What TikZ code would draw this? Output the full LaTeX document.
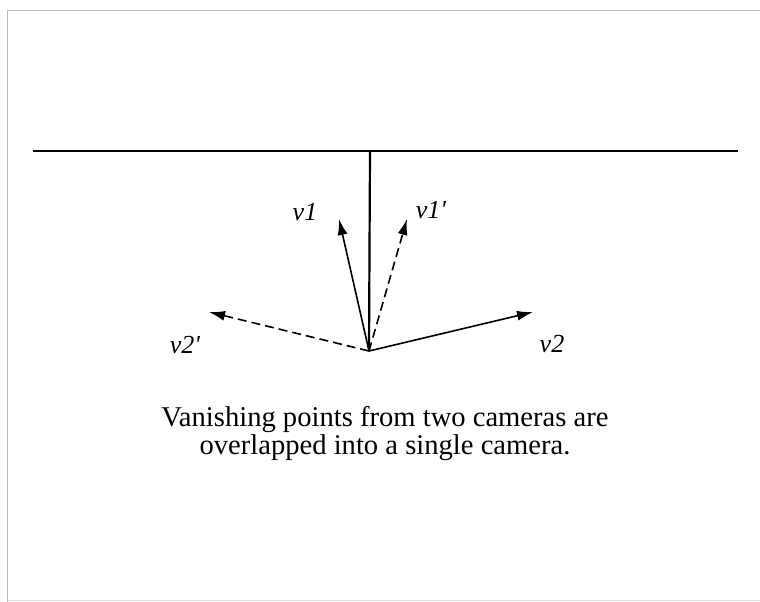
\documentclass[tikz,border=0pt]{standalone}
\usepackage{fontspec}
\setmainfont{Liberation Serif}
\usetikzlibrary{arrows.meta, positioning}

\begin{document}
\begin{tikzpicture}[
    x=1pt, y=-1pt,
    >={Latex[length=16pt, width=10pt]},
    frame/.style={gray!55, line width=1pt},
    axis/.style={black, line width=2.2pt},
    vec/.style={->, line width=1.6pt},
    vecdash/.style={vec, dash pattern=on 9pt off 5pt},
    vlabel/.style={font=\fontsize{26}{26}\selectfont\itshape, anchor=base, inner sep=0pt},
    caption/.style={font=\fontsize{28.6}{27.5}\selectfont, align=center, anchor=base, inner sep=0pt},
]
\useasboundingbox (0,0) rectangle (760,602);

% === Frame ===
\draw[frame] (760,11) -- (7,11) -- (7,602);
\draw[gray!30, line width=0.6pt] (7,600) -- (760,600);

% === Image line and principal axis ===
\coordinate (hl) at (33,151);
\coordinate (hr) at (738,151);
\coordinate (top) at (370,151);
\coordinate (o) at (369,351);
\draw[axis] (hl) -- (hr);
\draw[axis] (top) -- (o);

% === Vanishing directions ===
\coordinate (v1tip) at (339,219);
\coordinate (v1ptip) at (407,219);
\coordinate (v2tip) at (533,312);
\coordinate (v2ptip) at (209,312);

\draw[vec] (o) -- (v1tip);
\draw[vecdash] (o) -- (v1ptip);
\draw[vec] (o) -- (v2tip);
\draw[vecdash] (o) -- (v2ptip);

% Labels
\node (v1) [vlabel] at (305,220) {v1};
\node (v1p) [vlabel] at (431,218) {v1\textquotesingle};
\node (v2) [vlabel] at (552,352) {v2};
\node (v2p) [vlabel] at (185,353) {v2\textquotesingle};

% === Caption ===
\node (cap) [caption] at (385,454) {Vanishing points from two cameras are\\overlapped into a single camera.};

\end{tikzpicture}
\end{document}
